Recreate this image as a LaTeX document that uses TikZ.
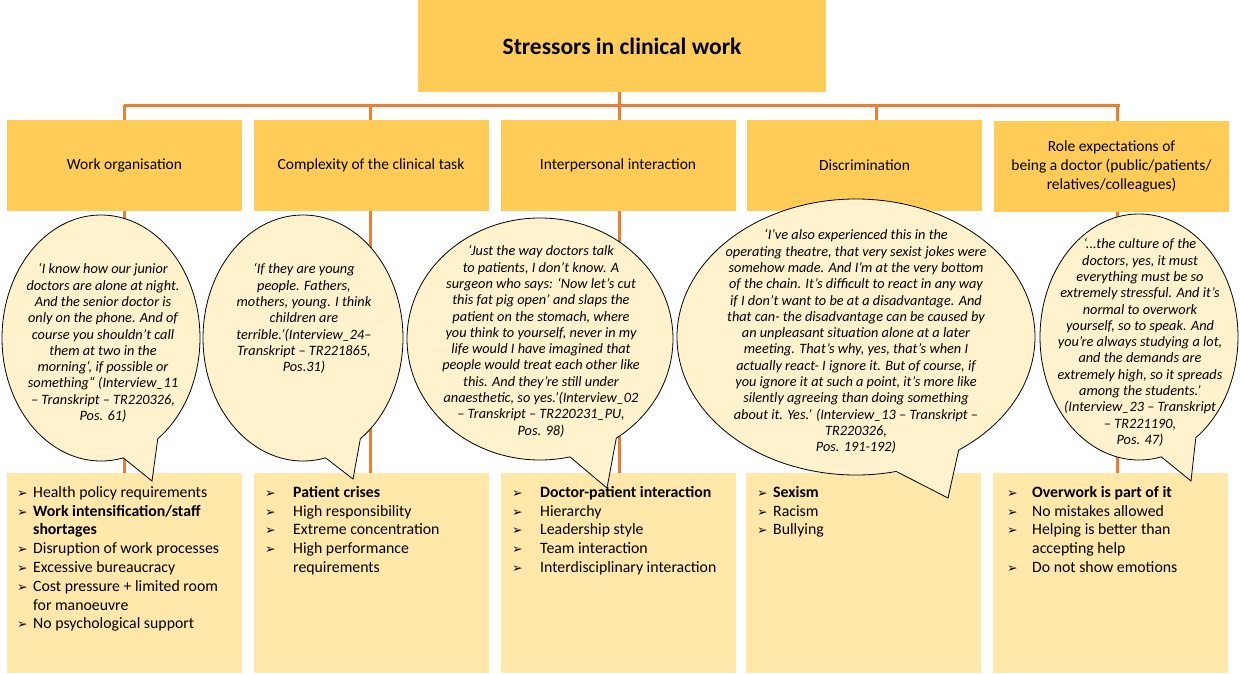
\documentclass[tikz,border=0pt]{standalone}
\usepackage{fontspec}
\setmainfont{Carlito}
\newfontfamily\symfont{DejaVu Sans}
\usetikzlibrary{backgrounds}
\definecolor{gold}{HTML}{FFCD57}
\definecolor{lightgold}{HTML}{FFE8AA}
\definecolor{bubblefill}{HTML}{FFF2CC}
\definecolor{linkorange}{HTML}{ED7D31}
\newcommand\bl[1]{\makebox[#1pt][l]{\raisebox{0pt}{\symfont\fontsize{12.5}{12.5}\selectfont ➢}}}
\newcommand\ind[1]{\hspace*{#1pt}}
\newcommand\fst{\rule{0pt}{12.5pt}}
\newcommand\qst{\rule{0pt}{11pt}}
\newcommand\speechbubble[7]{%
  \coordinate (#1) at (#2,#3);
  \filldraw[bubble] (#1) ++(-55:#4pt and #5pt)
    arc[start angle=-55, end angle=283, x radius=#4pt, y radius=#5pt]
    -- (#6,#7) -- cycle;}
\begin{document}
\begin{tikzpicture}[x=1pt,y=-1pt,
  titlebox/.style={fill=gold, draw=none, inner sep=0pt, minimum width=408pt, minimum height=92pt,
    font=\bfseries\fontsize{23.5}{28}\selectfont},
  catbox/.style={fill=gold, draw=none, inner sep=0pt, minimum width=235pt, minimum height=91pt,
    align=center, font=\fontsize{15.5}{18.8}\selectfont},
  listbox/.style={fill=lightgold, draw=none, inner sep=0pt, minimum width=235pt, minimum height=200pt},
  listtext/.style={anchor=north west, inner sep=0pt, align=left, font=\fontsize{15.8}{18.8}\selectfont},
  quotetext/.style={anchor=north, inner sep=0pt, align=center, font=\itshape\fontsize{14.3}{16.3}\selectfont},
  bubble/.style={fill=bubblefill, draw=black, line width=0.8pt, line join=miter},
  link/.style={draw=linkorange, line width=3pt}]
\useasboundingbox (0,0) rectangle (1240,673);

% title and categories
\node[titlebox] (title) at (622,46) {Stressors in clinical work};
\node[catbox] (c1) at (124.5,165.5) {Work organisation};
\node[catbox] (c2) at (371,165.5) {Complexity of the clinical task};
\node[catbox] (c3) at (618,165.5) {Interpersonal interaction};
\node[catbox] (c4) at (864.5,165.5) {Discrimination};
\node[catbox] (c5) at (1111.5,166.5) {Role expectations of\\being a doctor (public/patients/\\relatives/colleagues)};

% list boxes
\node[listbox] (l1) at (124,573) {};
\node[listbox] (l2) at (371,573) {};
\node[listbox] (l3) at (618,573) {};
\node[listbox] (l4) at (863.5,573) {};
\node[listbox] (l5) at (1110,573) {};

% connectors
\coordinate (barL) at (125,105);
\coordinate (barR) at (1118,105);
\coordinate (x1) at (124.5,0);
\coordinate (x2) at (370,0);
\coordinate (x3) at (619,0);
\coordinate (x4) at (876,0);
\coordinate (x5) at (1117,0);
\begin{scope}[on background layer]
  \draw[link] (title.south -| x3) -- (barL -| x3);
  \draw[link, line cap=rect] (barL) -- (barR);
  \foreach \i in {1,...,5}{
    \draw[link] (barL -| x\i) -- (c\i.north -| x\i);
    \draw[link] (c\i.south -| x\i) -- (l\i.north -| x\i);
  }
\end{scope}

% list texts
\node[listtext] (t1) at (17,484.5) {\fst\bl{16}Health policy requirements\\
\bl{16}\textbf{Work intensification/staff}\\
\ind{16}\textbf{shortages}\\
\bl{16}Disruption of work processes\\
\bl{16}Excessive bureaucracy\\
\bl{16}Cost pressure + limited room\\
\ind{16}for manoeuvre\\
\bl{16}No psychological support};
\node[listtext] (t2) at (265,484.5) {\fst\bl{28}\textbf{Patient crises}\\
\bl{28}High responsibility\\
\bl{28}Extreme concentration\\
\bl{28}High performance\\
\ind{28}requirements};
\node[listtext] (t3) at (512,484.5) {\fst\bl{28}\textbf{Doctor-patient interaction}\\
\bl{28}Hierarchy\\
\bl{28}Leadership style\\
\bl{28}Team interaction\\
\bl{28}Interdisciplinary interaction};
\node[listtext] (t4) at (757,484.5) {\fst\bl{16}\textbf{Sexism}\\
\bl{16}Racism\\
\bl{16}Bullying};
\node[listtext] (t5) at (1007,484.5) {\fst\bl{25}\textbf{Overwork is part of it}\\
\bl{25}No mistakes allowed\\
\bl{25}Helping is better than\\
\ind{25}accepting help\\
\bl{25}Do not show emotions};

% speech bubbles
\speechbubble{b1}{101}{338}{99}{123}{152}{481}
\speechbubble{b2}{303}{338}{100}{123}{353}{479}
\speechbubble{b3}{540}{339}{133}{121}{607}{488}
\speechbubble{b4}{856}{337}{179}{138}{948}{498}
\speechbubble{b5}{1139}{337}{99}{123}{1191}{481}

\node[quotetext] (q1) at (103,262.6) {\qst‘I know how our junior\\
doctors are alone at night.\\
And the senior doctor is\\
only on the phone. And of\\
course you shouldn't call\\
them at two in the\\
morning‘, if possible or\\
something“ (Interview\_11\\
– Transkript – TR220326,\\
Pos. 61)};
\node[quotetext] (q2) at (304,262.6) {\qst‘If they are young\\
people. Fathers,\\
mothers, young. I think\\
children are\\
terrible.’(Interview\_24–\\
Transkript – TR221865,\\
Pos.31)};
\node[quotetext] (q3) at (541,244.6) {\qst‘Just the way doctors talk\\
to patients, I don't know. A\\
surgeon who says: ‘Now let's cut\\
this fat pig open’ and slaps the\\
patient on the stomach, where\\
you think to yourself, never in my\\
life would I have imagined that\\
people would treat each other like\\
this. And they're still under\\
anaesthetic, so yes.’(Interview\_02\\
– Transkript – TR220231\_PU,\\
Pos. 98)};
\node[quotetext] (q4) at (856,228.6) {\qst‘I've also experienced this in the\\
operating theatre, that very sexist jokes were\\
somehow made. And I'm at the very bottom\\
of the chain. It's difficult to react in any way\\
if I don't want to be at a disadvantage. And\\
that can- the disadvantage can be caused by\\
an unpleasant situation alone at a later\\
meeting. That's why, yes, that's when I\\
actually react- I ignore it. But of course, if\\
you ignore it at such a point, it's more like\\
silently agreeing than doing something\\
about it. Yes.’ (Interview\_13 – Transkript –\\
TR220326,\\
Pos. 191-192)};
\node[quotetext] (q5) at (1140,237.6) {\qst‘...the culture of the\\
doctors, yes, it must\\
everything must be so\\
extremely stressful. And it's\\
normal to overwork\\
yourself, so to speak. And\\
you're always studying a lot,\\
and the demands are\\
extremely high, so it spreads\\
among the students.’\\
(Interview\_23 – Transkript\\
– TR221190,\\
Pos. 47)};
\end{tikzpicture}
\end{document}
